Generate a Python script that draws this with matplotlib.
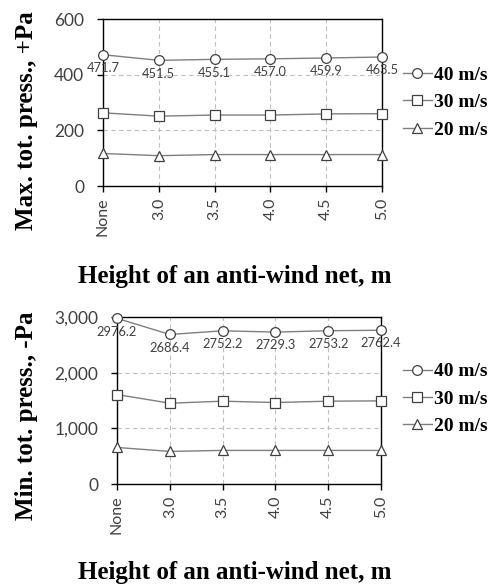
import matplotlib
matplotlib.use("Agg")
import matplotlib.pyplot as plt
from matplotlib.ticker import FuncFormatter

heights = ["None", "3.0", "3.5", "4.0", "4.5", "5.0"]
speeds = ["40 m/s", "30 m/s", "20 m/s"]

# max total pressure, +Pa
max_40 = [471.7, 451.5, 455.1, 457.0, 459.9, 463.5]
max_30 = [263, 251, 255, 255, 259, 260]
max_20 = [117, 109, 113, 113, 113, 113]

# min total pressure, -Pa
min_40 = [2976.2, 2686.4, 2752.2, 2729.3, 2753.2, 2762.4]
min_30 = [1607, 1452, 1488, 1464, 1488, 1494]
min_20 = [657, 586, 604, 604, 604, 604]

markers = ["o", "s", "^"]
tick_font = "Lato"
serif = "Liberation Serif"

fig = plt.figure(figsize=(4.97, 5.85), dpi=100)


def draw(ax, series, yticks, fmt):
    x = list(range(len(heights)))
    for vals, m, lab in zip(series, markers, speeds):
        ax.plot(x, vals, color="#7f7f7f", lw=1.0, marker=m, ms=7,
                mfc="white", mec="#404040", mew=0.9, label=lab,
                clip_on=False, zorder=3)
    # data labels under the 40 m/s line
    for xi, v in zip(x, series[0]):
        ax.annotate(f"{v:.1f}", (xi, v), xytext=(0, -9.5),
                    textcoords="offset points", ha="center", va="center",
                    fontsize=9.3, color="#404040", family=tick_font, zorder=4)
    ax.set_xlim(0, len(heights) - 1)
    ax.set_ylim(yticks[0], yticks[-1])
    ax.set_yticks(yticks)
    ax.yaxis.set_major_formatter(FuncFormatter(fmt))
    ax.set_xticks(x)
    ax.set_xticklabels(heights, rotation=90)
    ax.grid(True, ls=(0, (4, 3)), color="#bfbfbf", lw=0.8)
    ax.set_axisbelow(True)
    for s in ax.spines.values():
        s.set_color("black")
        s.set_linewidth(1.0)
    ax.tick_params(axis="both", direction="out", length=4.5, width=1.0,
                   color="black", labelsize=12.5, labelcolor="#404040")
    ax.tick_params(axis="y", pad=9)
    ax.tick_params(axis="x", pad=4, labelsize=11.5)
    for t in ax.get_xticklabels() + ax.get_yticklabels():
        t.set_family(tick_font)
    ax.legend(loc="center left", frameon=False,
              bbox_to_anchor=(0.795, 0.5), bbox_transform=fig.transFigure,
              prop={"family": serif, "weight": "bold", "size": 14},
              handlelength=1.5, handletextpad=0.1, labelspacing=0.5,
              borderaxespad=0)
    return ax


ax1 = fig.add_axes([0.2072, 0.682, 0.5614, 0.2855])
draw(ax1, [max_40, max_30, max_20], [0, 200, 400, 600],
     lambda v, p: f"{v:.0f}")
ax1.get_legend().set_bbox_to_anchor((0.795, 0.825), transform=fig.transFigure)

ax2 = fig.add_axes([0.2354, 0.1726, 0.5312, 0.2855])
draw(ax2, [min_40, min_30, min_20], [0, 1000, 2000, 3000],
     lambda v, p: f"{v:,.0f}")
ax2.get_legend().set_bbox_to_anchor((0.795, 0.318), transform=fig.transFigure)

fig.text(0.054, 0.793, "Max. tot. press., +Pa", rotation=90, ha="center",
         va="center", family=serif, weight="bold", size=18)
fig.text(0.054, 0.289, "Min. tot. press., -Pa", rotation=90, ha="center",
         va="center", family=serif, weight="bold", size=18)
fig.text(0.473, 1 - 276 / 585, "Height of an anti-wind net, m", ha="center",
         va="center", family=serif, weight="bold", size=18)
fig.text(0.473, 1 - 573 / 585, "Height of an anti-wind net, m", ha="center",
         va="center", family=serif, weight="bold", size=18)

fig.savefig("out.png", dpi=100)
